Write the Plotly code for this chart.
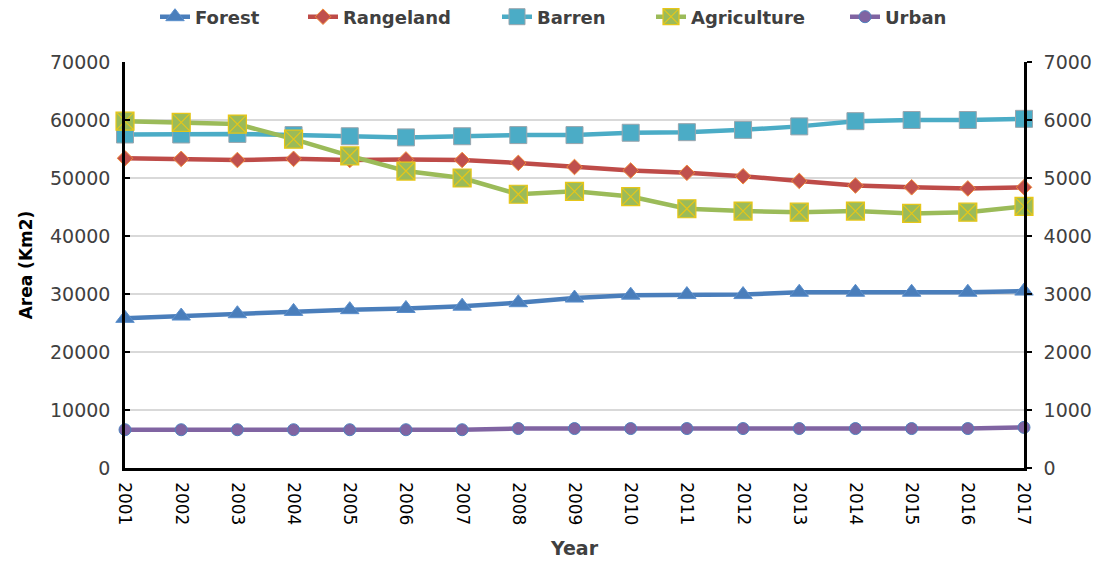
import plotly.graph_objects as go

years = list(range(2001, 2018))

forest = [25800, 26200, 26600, 27000, 27300, 27500, 27900, 28500, 29300,
          29800, 29900, 29900, 30300, 30300, 30300, 30300, 30500]
rangeland = [53400, 53300, 53100, 53300, 53100, 53200, 53100, 52600, 51900,
             51300, 50900, 50300, 49500, 48700, 48400, 48200, 48400]
barren = [57500, 57500, 57600, 57400, 57200, 57000, 57200, 57400, 57400,
          57800, 57900, 58300, 58900, 59800, 60000, 60000, 60200]
agriculture = [59800, 59600, 59300, 56700, 53800, 51200, 50000, 47200, 47700,
               46800, 44700, 44300, 44100, 44300, 43900, 44100, 45100]
# urban is read against the secondary (right-hand) axis
urban = [660, 660, 660, 660, 660, 660, 660, 680, 680,
         680, 680, 680, 680, 680, 680, 680, 700]

left_ticks = list(range(0, 70001, 10000))
right_ticks = list(range(0, 7001, 1000))

TXT = "#404040"
FONT = "DejaVu Sans"

fig = go.Figure()

# each series gets its own legend box so the entries can be spread along the top
legend_x = [155, 303, 497, 651, 845]


def add_series(idx, name, y, color, symbol, size, mcolor, lcolor, lw, axis="y"):
    leg = "legend" if idx == 0 else f"legend{idx + 1}"
    fig.add_trace(go.Scatter(
        x=years, y=y, name=name, mode="lines+markers", yaxis=axis,
        line=dict(color=color, width=4.5),
        marker=dict(symbol=symbol, size=size, color=mcolor,
                    line=dict(color=lcolor, width=lw)),
        cliponaxis=False, legend=leg,
    ))
    fig.update_layout({leg: dict(
        orientation="h", xref="container", yref="container",
        x=legend_x[idx] / 1101, xanchor="left",
        y=1 - 17 / 561, yanchor="middle",
        font=dict(family=FONT, size=18, color=TXT, weight="bold"),
        itemwidth=30, bgcolor="rgba(0,0,0,0)",
    )})


add_series(0, "Forest", forest, "#4A7EBB", "triangle-up", 16, "#4A7EBB", "#5B8FCC", 1)
add_series(1, "Rangeland", rangeland, "#BE4B48", "diamond", 12, "#C0504D", "#F08A3A", 1)
add_series(2, "Barren", barren, "#4BACC6", "square", 17, "#4BACC6", "#9AA5AD", 1)
add_series(3, "Agriculture", agriculture, "#9BBB59", "square-x", 18, "#9BBB59", "#E6C619", 1.2)
add_series(4, "Urban", urban, "#8064A2", "circle", 12, "#8064A2", "#4F81BD", 1, axis="y2")

fig.update_layout(
    width=1101, height=561,
    margin=dict(l=125, r=77, t=62, b=93),
    paper_bgcolor="white", plot_bgcolor="white",
    font=dict(family=FONT, color=TXT, size=16),
    showlegend=True,
    xaxis=dict(
        range=[2001, 2017], tickmode="array", tickvals=years,
        ticktext=[str(y) for y in years], tickangle=90,
        showline=True, linecolor="black", linewidth=2.5,
        showgrid=False, zeroline=False, ticks="",
        ticklabelstandoff=8, automargin=False,
        tickfont=dict(family=FONT, size=17, color="black"),
        title=dict(text="Year", font=dict(family=FONT, size=19, color=TXT, weight="bold"),
                   standoff=18),
    ),
    yaxis=dict(
        range=[0, 70000], tickmode="array", tickvals=left_ticks,
        ticktext=[str(v) for v in left_ticks],
        showline=True, linecolor="black", linewidth=2.5,
        showgrid=True, gridcolor="#D9D9D9", gridwidth=1.5, zeroline=False,
        ticks="inside", ticklen=5, tickwidth=2, tickcolor="black",
        ticklabelstandoff=8, automargin=False,
        tickfont=dict(family=FONT, size=19, color=TXT),
        title=dict(text="Area (Km2)", font=dict(family=FONT, size=17, color="black", weight="bold"),
                   standoff=14),
    ),
    yaxis2=dict(
        range=[0, 7000], tickmode="array", tickvals=right_ticks,
        ticktext=[str(v) for v in right_ticks],
        overlaying="y", side="right", anchor="x",
        showline=True, linecolor="black", linewidth=2.5,
        showgrid=False, zeroline=False,
        ticks="outside", ticklen=5, tickwidth=2, tickcolor="black",
        ticklabelstandoff=8, automargin=False,
        tickfont=dict(family=FONT, size=19, color=TXT),
    ),
)

fig.write_html("out.html")
